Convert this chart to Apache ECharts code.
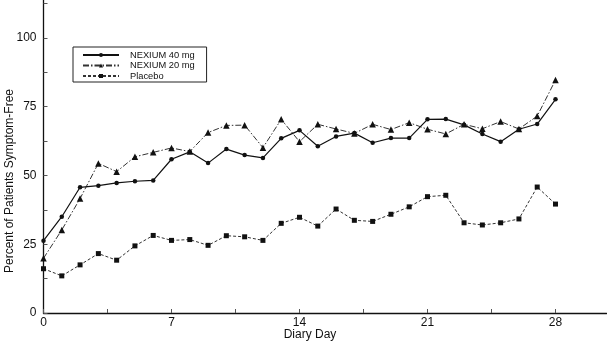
<!DOCTYPE html>
<html>
<head>
<meta charset="utf-8">
<script src="https://cdn.jsdelivr.net/npm/echarts@6/dist/echarts.min.js"></script>
<style>
  html, body { margin: 0; padding: 0; background: #fff; }
  #chart { width: 607px; height: 345px; }
</style>
</head>
<body>
<div id="chart"></div>
<script>
// Diary day of treatment
const days = [0, 1, 2, 3, 4, 5, 6, 7, 8, 9, 10, 11, 12, 13, 14, 15, 16, 17, 18, 19, 20, 21, 22, 23, 24, 25, 26, 27, 28];

// Percent of patients symptom-free on each day
const nexium40 = [26.3, 35.0, 45.7, 46.3, 47.3, 47.9, 48.2, 55.9, 58.6, 54.5, 59.6, 57.4, 56.4, 63.5, 66.4, 60.6, 64.2, 65.4, 61.9, 63.6, 63.6, 70.4, 70.5, 68.4, 65.1, 62.3, 66.8, 68.7, 77.7];
const nexium20 = [19.9, 30.2, 41.6, 54.4, 51.4, 56.8, 58.4, 60.0, 58.7, 65.6, 68.2, 68.3, 60.1, 70.4, 62.3, 68.6, 66.9, 65.3, 68.6, 66.7, 69.2, 66.8, 65.1, 68.6, 67.0, 69.6, 66.9, 71.6, 84.7];
const placebo = [16.1, 13.5, 17.5, 21.6, 19.2, 24.4, 28.2, 26.4, 26.7, 24.6, 28.1, 27.7, 26.4, 32.6, 34.8, 31.6, 37.8, 33.7, 33.3, 35.9, 38.6, 42.3, 42.8, 32.8, 32.0, 32.8, 34.2, 45.8, 39.6];

const seriesNames = ['NEXIUM 40 mg', 'NEXIUM 20 mg', 'Placebo'];
const xTickLabels = [0, 7, 14, 21, 28];
const yTickLabels = [0, 25, 50, 75, 100];

const FONT = '"Liberation Sans", Arial, Helvetica, sans-serif';
const pairs = vals => days.map((d, i) => [d, vals[i]]);

const chart = echarts.init(document.getElementById('chart'), null, { renderer: 'canvas' });

chart.setOption({
  animation: false,
  backgroundColor: '#ffffff',
  grid: { left: 43.5, top: 0, width: 563.2, height: 313 },
  xAxis: {
    type: 'value',
    min: 0,
    max: 30.8,
    interval: 3.5,
    axisLine: { show: true, lineStyle: { color: '#111', width: 1.3 } },
    axisTick: { show: true, inside: true, length: 4, lineStyle: { color: '#555', width: 1 } },
    splitLine: { show: false },
    axisLabel: {
      color: '#111', fontFamily: FONT, fontSize: 12, margin: 4,
      showMaxLabel: false,
      formatter: v => (xTickLabels.includes(v) ? String(v) : '')
    }
  },
  yAxis: {
    type: 'value',
    min: 0,
    max: 113.8,
    interval: 12.5,
    axisLine: { show: true, lineStyle: { color: '#111', width: 1.3 } },
    axisTick: { show: true, inside: true, length: 4, lineStyle: { color: '#555', width: 1 } },
    splitLine: { show: false },
    axisLabel: {
      color: '#111', fontFamily: FONT, fontSize: 12, margin: 7,
      showMaxLabel: false,
      formatter: v => (yTickLabels.includes(v) ? String(v) : '')
    }
  },
  legend: {
    orient: 'vertical',
    left: 73,
    top: 47,
    padding: [3, 12, 1, 9],
    itemWidth: 36,
    itemHeight: 5,
    itemGap: 0.5,
    borderColor: '#222',
    borderWidth: 1,
    textStyle: { fontFamily: FONT, fontSize: 9.3, color: '#111', lineHeight: 10, padding: [0, 0, 0, 6] },
    data: seriesNames
  },
  graphic: [
    {
      type: 'text',
      x: 310, y: 335,
      style: { text: 'Diary Day', font: '12px ' + FONT, fill: '#111', textAlign: 'center', textVerticalAlign: 'middle' }
    },
    {
      type: 'text',
      x: 10, y: 181,
      rotation: Math.PI / 2,
      style: { text: 'Percent of Patients Symptom-Free', font: '12px ' + FONT, fill: '#111', textAlign: 'center', textVerticalAlign: 'middle' }
    }
  ],
  series: [
    {
      name: seriesNames[0],
      type: 'line',
      data: pairs(nexium40),
      symbol: 'circle',
      symbolSize: 4.5,
      lineStyle: { color: '#111', width: 1.2, type: 'solid' },
      itemStyle: { color: '#111' },
      z: 3
    },
    {
      name: seriesNames[1],
      type: 'line',
      data: pairs(nexium20),
      symbol: 'triangle',
      symbolSize: 6.5,
      lineStyle: { color: '#333', width: 1, type: [6, 2, 1.5, 2] },
      itemStyle: { color: '#111' },
      z: 2
    },
    {
      name: seriesNames[2],
      type: 'line',
      data: pairs(placebo),
      symbol: 'rect',
      symbolSize: 5,
      lineStyle: { color: '#333', width: 1, type: [3, 2] },
      itemStyle: { color: '#111' },
      z: 1
    }
  ]
});
</script>
</body>
</html>
